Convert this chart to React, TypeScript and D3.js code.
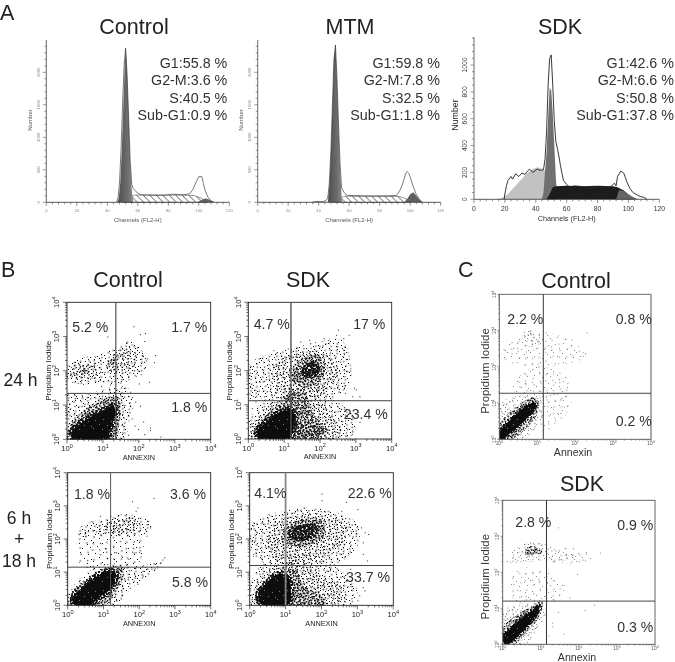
import React from "react";
import * as d3 from "d3";

const FONT = "'Liberation Sans', Arial, sans-serif";
type P = [number, number];

// ---------- Panel A: histograms, [channel, count] ----------
const ctlOutline: P[] = [[46,0],[47,60],[48,300],[49,800],[50,1500],[51,2100],[52,2370],[53,1950],[54,1300],[55,640],[56,280],[57,210],[59,160],[61,125],[63,115],[70,110],[78,110],[83,125],[90,115],[94,130],[96,190],[98,300],[100,395],[102,395],[103,290],[104,190],[106,80],[108,25],[110,0]];
const ctlG1: P[] = [[46.5,0],[47.5,60],[48.5,300],[49.5,800],[50.5,1500],[51.5,2150],[52.2,2370],[53,1950],[54,1300],[55,600],[56,200],[57,0]];
const ctlS: P[] = [[50,0],[54,70],[58,110],[70,110],[85,110],[97,105],[101,70],[106,0]];
const ctlG2: P[] = [[99,0],[101,25],[103,50],[105,60],[107,40],[109,10],[110,0]];

const mtmOutline: P[] = [[36,0],[37,12],[43,12],[45,30],[46,80],[47,300],[48,800],[49,1500],[50,2200],[51,2420],[52,1900],[53,1200],[54,600],[55,220],[57,140],[59,105],[70,100],[85,100],[91,105],[93,170],[95,280],[96,360],[97,440],[98,472],[99,450],[100,390],[102,240],[104,120],[106,50],[108,0]];
const mtmG1: P[] = [[46,0],[47,250],[48,750],[49,1450],[50,2200],[51,2420],[52,1850],[53,1150],[54,500],[55,100],[55.5,0]];
const mtmS: P[] = [[49,0],[53,50],[57,95],[70,90],[85,90],[93,90],[97,55],[100,0]];
const mtmG2: P[] = [[96,0],[98,50],[100,125],[102,155],[104,100],[106,40],[108,0]];

const sdkOutline: P[] = [[19.5,0],[20,40],[21,100],[22,140],[24,170],[25,150],[27,190],[29,170],[31,195],[33,185],[35,215],[36,225],[38,200],[41,225],[43,215],[45,220],[46,300],[47,500],[48,850],[49,1050],[50,1075],[51,850],[52,580],[53,430],[54,380],[55,320],[56,250],[57,190],[58,140],[60,110],[62,90],[65,100],[70,95],[75,80],[80,90],[85,85],[88,90],[91,120],[92,100],[93,170],[95,210],[97,195],[99,130],[101,80],[103,50],[106,30],[108,20],[110,15],[112,0]];
const sdkSub: P[] = [[14,0],[18,10],[22,40],[26,90],[30,140],[34,190],[38,225],[41,238],[44,230],[47,205],[50,100],[52,0]];
const sdkG1: P[] = [[44,0],[45,50],[46,210],[47,350],[48,600],[49,830],[50,810],[51,640],[52,400],[53,160],[54,0]];
const sdkS: P[] = [[47,0],[49,40],[51,90],[53,97],[60,100],[70,97],[80,100],[90,97],[93,90],[97,65],[100,35],[103,0]];
const sdkG2: P[] = [[92,0],[94,70],[97,60],[100,38],[103,18],[106,0]];

const statsControl = ["G1:55.8 %", "G2-M:3.6 %", "S:40.5 %", "Sub-G1:0.9 %"];
const statsMtm = ["G1:59.8 %", "G2-M:7.8 %", "S:32.5 %", "Sub-G1:1.8 %"];
const statsSdk = ["G1:42.6 %", "G2-M:6.6 %", "S:50.8 %", "Sub-G1:37.8 %"];

const channelMajors = [0, 20, 40, 60, 80, 100, 120];
const countMajorsSmall = [0, 500, 1000, 1500, 2000];
const countMajorsLarge = [0, 200, 400, 600, 800, 1000];

// ---------- Dot-plot density zones and stray events, in log10 units ----------
type Zone = { level: number; pts: P[] };

const b1Zones: Zone[] = [
  { level: 1, pts: [[0,0],[0,1.3],[0.5,1.3],[1,1.45],[1.4,1.55],[1.7,1.5],[1.85,1.2],[1.75,0.6],[1.55,0]] },
  { level: 3, pts: [[0.02,0],[0,0.25],[0.25,0.62],[0.6,0.95],[1,1.18],[1.42,1.25],[1.5,0.9],[1.45,0.4],[1.35,0]] },
  { level: 5, pts: [[0.16,0],[0.13,0.22],[0.32,0.42],[0.59,0.61],[0.92,0.81],[1.15,0.92],[1.29,1],[1.34,0.71],[1.2,0.32],[1.12,0]] },
  { level: 1, pts: [[0,1.75],[0,2.15],[0.5,2.4],[1,2.5],[1.4,2.7],[1.8,2.85],[2.15,2.5],[2.2,2.1],[1.8,1.75],[1.4,1.6],[0.9,1.65],[0.4,1.6]] },
  { level: 2, pts: [[0.1,1.8],[0.15,2.15],[0.7,2.25],[0.95,2.0],[0.7,1.75]] },
  { level: 2, pts: [[1.1,2.05],[1.2,2.4],[1.6,2.65],[1.95,2.45],[1.8,2.05],[1.4,1.9]] },
  { level: 3, pts: [[0.38,1.92],[0.42,2.05],[0.6,2.05],[0.62,1.94]] },
  { level: 3, pts: [[1.15,2.2],[1.25,2.35],[1.4,2.35],[1.35,2.2]] },
];
const b1Events: P[] = [[1.85,3.3],[2.03,3.07],[2.17,3.1],[2.15,2.87],[1.12,3],[1.66,2.85],[1.8,2.77],[2.45,2.46],[2.42,2.25],[2.28,1.68],[2,1.63],[2.31,0.34],[2.31,0.27],[1.98,0.3],[1.8,0.61],[2.12,0.52],[1.7,0.13],[1.6,1],[1.52,0.42],[2.03,0.98],[2.22,2.36],[2.08,2.46],[1.9,1.1],[1.88,0.4],[2.15,0.15],[1.6,0.2],[2.05,1.9],[2.6,0.08],[0.95,1.55],[1.2,1.6]];

const b2Zones: Zone[] = [
  { level: 1, pts: [[0,0],[0,0.5],[0.5,1.2],[1,1.6],[1.9,1.6],[2.6,1],[3,0.6],[2.8,0]] },
  { level: 2, pts: [[0.1,0],[0.05,0.3],[0.4,0.85],[0.85,1.2],[1.3,1.5],[1.8,1.4],[2.2,0.9],[2.5,0.5],[2.6,0.15],[2.4,0]] },
  { level: 3, pts: [[0.2,0],[0.15,0.25],[0.45,0.65],[0.85,1],[1.2,1.35],[1.6,1.3],[1.75,0.85],[2,0.5],[2.2,0.3],[2.1,0]] },
  { level: 5, pts: [[0.3,0],[0.25,0.2],[0.45,0.45],[0.8,0.72],[1.15,0.88],[1.3,0.65],[1.25,0.3],[1.15,0]] },
  { level: 3, pts: [[1.3,0.1],[1.3,0.45],[1.8,0.42],[2.1,0.28],[1.9,0.08]] },
  { level: 1, pts: [[0,1.3],[0.05,2.2],[0.7,2.5],[1.4,2.7],[2,2.85],[2.6,2.9],[2.85,2.3],[2.8,1.5],[2.2,1.2],[1,1.2]] },
  { level: 2, pts: [[0.7,1.7],[0.75,2.2],[1.2,2.45],[1.7,2.6],[2.3,2.4],[2.5,1.9],[2.3,1.5],[1.7,1.3],[1.1,1.3]] },
  { level: 3, pts: [[1.25,1.65],[1.25,2.1],[1.6,2.4],[1.95,2.45],[2.15,2.15],[2.05,1.75],[1.6,1.5]] },
  { level: 4, pts: [[1.5,1.85],[1.55,2.15],[1.85,2.25],[2,2.05],[1.85,1.8]] },
];
const b2Events: P[] = [[2.5,3.2],[2.8,3.05],[2.45,3.05],[2.65,2.95],[3,1.45],[2.9,1.25],[2.95,1.5],[2.7,1.35],[1.1,2.65],[0.7,2.6],[3.05,0.8],[3.1,0.5],[2.85,0.75],[3.1,1.25],[0.1,0.9],[0.2,1.1],[0.05,1.2],[2.9,0.25],[2.7,0.1],[1.7,2.9],[2.1,2.95],[1.45,2.85]];

const b3Zones: Zone[] = [
  { level: 1, pts: [[0,0],[0,0.3],[0.4,0.85],[0.9,1.2],[1.5,1.25],[2.1,1.2],[2.6,1.3],[2.5,1.1],[2,0.7],[1.6,0.3],[1.4,0]] },
  { level: 3, pts: [[0.1,0],[0.1,0.35],[0.45,0.7],[0.8,1],[1.2,1.15],[1.5,1.15],[1.55,0.8],[1.3,0.35],[1.05,0]] },
  { level: 5, pts: [[0.18,0.02],[0.18,0.3],[0.5,0.6],[0.85,0.9],[1.2,1.05],[1.35,0.95],[1.2,0.5],[0.9,0.25],[0.6,0]] },
  { level: 0, pts: [[0.4,1.2],[0.3,2.1],[1,2.5],[2,2.3],[2,1.3]] },
  { level: 1, pts: [[0.3,2.1],[0.4,2.4],[1,2.6],[1.7,2.75],[2.3,2.55],[2.3,2.2],[1.8,2.05],[1.1,2.1]] },
  { level: 2, pts: [[1,2.25],[1.05,2.45],[1.7,2.65],[2,2.5],[1.8,2.2]] },
];
const b3Events: P[] = [[1.8,3.14],[2.4,3.24],[1.95,2.95],[1.9,2.85],[0.9,2.7],[2.65,1.38],[2.6,1.3],[2.7,1.45],[2.45,1.25],[1.95,0.65],[2.1,0.9],[1.7,1.4],[1.5,1.5],[1.35,1.6],[1.9,1.6],[2,1.6],[1.8,1.62],[2.2,2.1],[2.3,2.35],[1.2,1.05],[1.35,0.15],[1.25,0.05],[1.5,0.3],[0.05,0.15],[0.02,0.05]];

const b4Zones: Zone[] = [
  { level: 1, pts: [[0,0],[0,0.5],[0.3,1.2],[1,1.5],[1.8,1.5],[2.6,1],[3,0.5],[2.8,0]] },
  { level: 2, pts: [[0.15,0],[0.1,0.45],[0.45,1],[0.9,1.3],[1.5,1.25],[2,0.9],[2.6,0.6],[2.6,0.2],[2.2,0]] },
  { level: 3, pts: [[0.25,0],[0.2,0.4],[0.5,0.8],[0.9,1.1],[1.3,1.05],[1.5,0.6],[2,0.3],[2.1,0]] },
  { level: 5, pts: [[0.3,0.05],[0.25,0.35],[0.5,0.7],[0.85,0.95],[1.05,0.85],[1.15,0.4],[1.05,0]] },
  { level: 1, pts: [[0,1.6],[0.1,2.5],[1,2.85],[2,2.9],[3,2.45],[3,1.8],[2.3,1.2],[1,1.1]] },
  { level: 2, pts: [[0.6,1.5],[0.5,2.3],[1.2,2.7],[2.1,2.75],[2.7,2.4],[2.6,1.9],[2,1.4],[1.2,1.2]] },
  { level: 3, pts: [[0.9,1.9],[1,2.35],[1.5,2.6],[2,2.55],[2.1,2.1],[1.6,1.8]] },
  { level: 4, pts: [[1.1,2.05],[1.15,2.3],[1.6,2.45],[1.85,2.4],[1.85,2.1],[1.4,1.95]] },
];
const b4Events: P[] = [[2,3.37],[2,3.17],[2.68,3.12],[3.0,2.9],[2.55,2.85],[1.8,2.88],[1.5,2.95],[0.6,2.7],[0.35,2.5],[0.2,2.2],[3.1,2.35],[3.3,2.15],[3.2,2.2],[3.15,1.9],[3.15,0.55],[3.05,0.3],[3.2,0.45],[3.0,0.15],[3.15,1.55],[1,1.1],[0.1,1.55],[1.5,0.05],[2.8,1.1],[3.27,1.35]];

const c1Zones: Zone[] = [
  { level: 0, pts: [[0.1,2.2],[0.1,2.5],[0.6,2.95],[1.1,3],[2,2.65],[2.3,2.3],[1.9,2.1],[0.9,2]] },
  { level: 0, pts: [[0.4,1.3],[0.4,1.6],[1,2],[1.8,1.7],[1.8,1.2],[1.2,1.15]] },
  { level: 1, pts: [[0.6,2.6],[0.65,2.9],[1.05,2.95],[1.05,2.6]] },
  { level: 0, pts: [[1,0.3],[1,1.1],[1.9,1.2],[1.7,0.6]] },
  { level: 1, pts: [[0,0],[0,0.95],[0.5,1.2],[1,1.15],[1.1,0.6],[0.8,0.1],[0.7,0]] },
  { level: 3, pts: [[0,0],[0,0.4],[0.4,0.85],[0.9,1.15],[1.05,1],[0.95,0.6],[0.6,0.2],[0.35,0]] },
  { level: 5, pts: [[0.02,0],[0.02,0.21],[0.33,0.58],[0.68,0.9],[0.94,1.01],[0.96,0.9],[0.68,0.53],[0.33,0.21],[0.1,0]] },
];
const c1Events: P[] = [[2.3,2.95],[1.9,2.75],[2.2,2.3],[1.3,1.05],[1.6,1.1],[1.7,0.9],[1.55,0.7],[1.1,0.65],[1.3,0.3],[1.45,0.6],[0.8,3],[2.2,2.4]];

const c2Zones: Zone[] = [
  { level: 0, pts: [[0.3,1.2],[0.3,2],[1,2.1],[1.6,1.5],[1.2,1.1]] },
  { level: 0, pts: [[1.5,2.3],[1.5,2.65],[2.3,2.55],[2.3,2.35]] },
  { level: 1, pts: [[0.1,2.3],[0.4,2.7],[0.9,2.85],[1.5,2.6],[2,2.45],[1.5,2.3],[0.8,2.3]] },
  { level: 3, pts: [[0.6,2.5],[0.65,2.7],[0.95,2.68],[1.05,2.55],[0.8,2.48]] },
  { level: 1, pts: [[0,0],[0,0.95],[0.5,1.1],[1,1.15],[1.1,0.8],[0.8,0.2],[0.6,0]] },
  { level: 3, pts: [[0,0],[0,0.45],[0.35,0.8],[0.75,1.05],[1.05,1.2],[0.95,0.75],[0.6,0.3],[0.3,0]] },
  { level: 5, pts: [[0.03,0.03],[0.03,0.25],[0.3,0.55],[0.65,0.85],[0.9,1.05],[0.98,1.1],[0.9,0.85],[0.6,0.45],[0.3,0.15],[0.15,0]] },
];
const c2Events: P[] = [[2.55,2.55],[2.1,2.35],[1.95,1.95],[1.6,1.65],[1.55,1.65],[1.1,0.85],[1.3,0.6],[1.45,0.9],[1.6,0.3],[1.2,0.25],[2.15,0.95],[2.4,1.1],[1.75,1.3],[1.35,2.3],[1.45,3.25],[1.3,0.5]];

// Irregular stipple tile, used to render event densities too high to list one by one
const stippleTile: P[] = [[3,2],[11,1],[19,3],[7,6],[15,7],[22,8],[1,10],[10,11],[18,12],[5,14],[13,16],[21,15],[2,17],[8,18],[16,0],[6,1],[14,4],[20,6],[0,5],[9,8],[17,9],[4,11],[12,13],[22,12],[7,16],[19,17],[1,14],[15,14],[11,5],[3,8],[9,2],[17,5],[21,1],[5,4],[13,9],[2,6],[19,10],[7,12],[15,11],[0,15],[10,15],[21,18],[4,18],[14,18],[18,15],[1,1],[12,0],[8,4],[16,3],[22,4],[4,7],[11,8],[20,8],[6,9],[14,7],[0,12],[9,13],[16,13],[3,13],[20,13],[6,17],[12,17],[17,17],[5,0],[13,2],[18,1],[10,4],[2,4],[19,5],[12,6],[6,7],[16,10],[8,10],[1,8],[21,10],[13,11],[3,10],[18,7]];
const stippleLevels = [
  { count: 12, size: 1 },
  { count: 26, size: 1 },
  { count: 42, size: 1 },
  { count: 66, size: 1.3 },
  { count: 78, size: 1.9 },
];

// ---------- Shared drawing bits ----------
const line = (x: any, y: any) => d3.line<P>().x((d) => x(d[0])).y((d) => y(d[1]));
const area = (x: any, y: any) => d3.area<P>().x((d) => x(d[0])).y1((d) => y(d[1])).y0(y(0));

function Txt({ x, y, size, anchor = "middle", fill = "#222", children, rotate }: any) {
  return (
    <text x={x} y={y} fontSize={size} textAnchor={anchor} fill={fill} fontFamily={FONT}
      transform={rotate ? `rotate(${rotate} ${x} ${y})` : undefined}>{children}</text>
  );
}

function Histogram(p: any) {
  const x = d3.scaleLinear().domain([0, 120]).range([p.x0, p.x1]);
  const y = d3.scaleLinear().domain([0, p.refValue]).range([p.base, p.refY]);
  const ln = line(x, y), ar = area(x, y);
  const top = p.axisTop;
  const yMax = y.invert(top);
  const big = p.big;
  return (
    <g>
      {big ? (
        <>
          <path d={ar(p.sub)!} fill="#c2c2c2" />
          <path d={ar(p.g1)!} fill="#707070" />
          <path d={ar(p.s)!} fill="#1c1c1c" />
          <path d={ar(p.g2)!} fill="#666" />
        </>
      ) : (
        <>
          <path d={ar(p.s)!} fill="url(#hatch)" stroke="#333" strokeWidth={0.5} />
          <path d={ar(p.g1)!} fill="url(#peak)" />
          <path d={ar(p.g2)!} fill="#606060" />
        </>
      )}
      <path d={ln(p.outline)!} fill="none" stroke="#222" strokeWidth={big ? 0.9 : 0.6} />
      <line x1={p.x0} x2={p.x1} y1={p.base} y2={p.base} stroke="#333" strokeWidth={0.8} />
      <line x1={p.x0} x2={p.x0} y1={top} y2={p.base} stroke="#444" strokeWidth={0.8} />
      {d3.range(0, 121, 4).map((c) => (
        <line key={c} x1={x(c)} x2={x(c)} y1={p.base} y2={p.base + (c % 20 === 0 ? 3.5 : 2)} stroke="#444" strokeWidth={0.6} />
      ))}
      {d3.range(0, yMax, p.minorStep).map((c) => (
        <line key={c} x1={p.x0} x2={p.x0 - (p.majors.includes(c) ? 3.5 : 2)} y1={y(c)} y2={y(c)} stroke="#555" strokeWidth={0.6} />
      ))}
      {channelMajors.map((c) => (
        <Txt key={c} x={x(c)} y={p.base + (big ? 11.5 : 10)} size={big ? 6.8 : 4.2} fill={big ? "#333" : "#888"}>{c}</Txt>
      ))}
      {p.majors.map((c: number) => (
        <Txt key={c} x={p.x0 - (big ? 7 : 6.5)} y={y(c)} size={big ? 6.8 : 4.2} fill={big ? "#333" : "#888"} rotate={-90}>{c}</Txt>
      ))}
      <Txt x={(p.x0 + p.x1) / 2} y={p.base + (big ? 22 : 20)} size={big ? 7.3 : 6} fill={big ? "#333" : "#555"}>Channels (FL2-H)</Txt>
      <Txt x={p.x0 - (big ? 15.7 : 14.3)} y={120 - (big ? 5 : 0)} size={big ? 8.8 : 6.1} fill={big ? "#222" : "#555"} rotate={-90}>Number</Txt>
      {p.stats.map((s: string, i: number) => (
        <Txt key={s} x={p.statsRight} y={67.7 + i * 17.45} size={14.3} anchor="end" fill="#333">{s}</Txt>
      ))}
    </g>
  );
}

function Exp({ x, y, size, e, rotate, fill }: any) {
  return (
    <text x={x} y={y} fontSize={size} textAnchor="middle" fill={fill} fontFamily={FONT}
      transform={rotate ? `rotate(${rotate} ${x} ${y})` : undefined}>
      10<tspan dy={-size * 0.42} fontSize={size * 0.72}>{e}</tspan>
    </text>
  );
}

function DotPlot(p: any) {
  const x = d3.scaleLog().domain([1, 1e4]).range([p.x0, p.x1]);
  const y = d3.scaleLog().domain([1, 1e4]).range([p.y0, p.y1]);
  const lx = (v: number) => x(10 ** v);
  const ly = (v: number) => y(10 ** v);
  const curve = d3.line<P>().x((d) => lx(d[0])).y((d) => ly(d[1])).curve(d3.curveCatmullRomClosed.alpha(0.5));
  const ink = (lv: number) => (p.faint && lv <= 1 ? "g" : "k");
  const clip = `clip-${p.id}`;
  const all = x.ticks();
  const small = p.faint;
  const tickInk = small ? "#555" : "#111";
  return (
    <g>
      <clipPath id={clip}><rect x={p.x0} y={p.y1} width={p.x1 - p.x0} height={p.y0 - p.y1} /></clipPath>
      <g clipPath={`url(#${clip})`}>
        {p.zones.map((z: Zone, i: number) => {
          const d = curve(z.pts)!;
          if (z.level === 5) {
            return (
              <g key={i}>
                <path d={d} fill="#0a0a0a" stroke="url(#st4k)" strokeWidth={small ? 3 : 6} />
                <path d={d} fill="url(#holes)" />
              </g>
            );
          }
          return (
            <g key={i}>
              <path d={d} fill={`url(#st${z.level}${ink(z.level)})`}
                stroke={z.level >= 3 ? `url(#st${z.level - 2}${ink(z.level - 2)})` : "none"} strokeWidth={6} />
              <path d={d} fill={`url(#rt${z.level}${ink(z.level)})`} />
            </g>
          );
        })}
        {p.events.map((d: P, i: number) => (
          <rect key={i} x={lx(d[0])} y={ly(d[1])} width={1} height={1} fill={p.faint ? "#888" : "#222"} />
        ))}
      </g>
      <rect x={p.x0} y={p.y1} width={p.x1 - p.x0} height={p.y0 - p.y1} fill="none" stroke={small ? "#555" : "#222"} strokeWidth={0.9} />
      {p.rightGray && <line x1={p.x1} x2={p.x1} y1={p.y1} y2={p.y0} stroke="#aaa" strokeWidth={2} />}
      <line x1={lx(p.vLine)} x2={lx(p.vLine)} y1={p.y1} y2={p.y0} stroke={p.vColor ?? "#333"} strokeWidth={p.vWidth ?? 1} />
      <line x1={p.x0} x2={p.x1} y1={ly(p.hLine)} y2={ly(p.hLine)} stroke="#444" strokeWidth={1} />
      {all.map((t) => {
        const major = Math.abs(Math.log10(t) % 1) < 1e-9;
        const len = small ? (major ? 2.2 : 1.3) : major ? 4 : 2;
        return (
          <g key={t} stroke={tickInk} strokeWidth={0.6}>
            <line x1={x(t)} x2={x(t)} y1={p.y0} y2={p.y0 + len} />
            <line x1={p.x0} x2={p.x0 - len} y1={y(t)} y2={y(t)} />
          </g>
        );
      })}
      {[0, 1, 2, 3, 4].map((e) => (
        <React.Fragment key={e}>
          <Exp x={lx(e)} y={p.y0 + (small ? 6 : 11.6)} size={small ? 4.8 : 7.6} e={e} fill={small ? "#555" : "#222"} />
          <Exp x={p.x0 - (small ? 3.5 : 7.5)} y={ly(e)} size={small ? 4.8 : 7.6} e={e} rotate={-90} fill={small ? "#555" : "#222"} />
        </React.Fragment>
      ))}
      {p.labels.map((l: any) => (
        <Txt key={l.t} x={l.x} y={l.y} size={14.1} anchor={l.a} fill="#333">{l.t}</Txt>
      ))}
      {small ? (
        <>
          <Txt x={p.xLabelX} y={p.xLabelY} size={10.6} fill="#333">Annexin</Txt>
          <Txt x={489} y={p.yLabelY} size={11.4} fill="#333" rotate={-90}>Propidium Iodide</Txt>
        </>
      ) : (
        <>
          <Txt x={(p.x0 + p.x1) / 2} y={p.y0 + 20.3} size={7.3} fill="#222">ANNEXIN</Txt>
          <Txt x={p.x0 - 16} y={(p.y0 + p.y1) / 2} size={8} fill="#222" rotate={-90}>Propidium Iodide</Txt>
        </>
      )}
    </g>
  );
}

const titles = [
  { t: "Control", x: 134, y: 34 }, { t: "MTM", x: 350, y: 34 }, { t: "SDK", x: 560, y: 34 },
  { t: "Control", x: 128, y: 287 }, { t: "SDK", x: 308, y: 287 },
  { t: "Control", x: 576, y: 287.7 }, { t: "SDK", x: 582, y: 490.7 },
];
const sideLabels = [
  { t: "24 h", x: 20.5, y: 385.7 }, { t: "6 h", x: 19, y: 524 }, { t: "+", x: 19, y: 545 }, { t: "18 h", x: 19, y: 566.7 },
];
const panelLetters = [
  { t: "A", x: 0, y: 19.5 }, { t: "B", x: 1, y: 277 }, { t: "C", x: 458, y: 277 },
];

export default function App() {
  return (
    <svg width={675} height={662} viewBox="0 0 675 662"
      style={{ position: "absolute", left: 0, top: 0, background: "#fff" }}>
      <defs>
        <pattern id="hatch" patternUnits="userSpaceOnUse" width={6.5} height={6.5}>
          <path d="M0 0L6.5 6.5M-1 5.5L1 7.5M5.5 -1L7.5 1" stroke="#111" strokeWidth={0.7} />
        </pattern>
        <linearGradient id="peak" x1="0" x2="1" y1="0" y2="0">
          <stop offset="0" stopColor="#4e4e4e" />
          <stop offset="0.6" stopColor="#6a6a6a" />
          <stop offset="1" stopColor="#8a8a8a" />
        </linearGradient>
        <pattern id="holes" patternUnits="userSpaceOnUse" width={23} height={19}>
          {stippleTile.slice(0, 8).map((d, j) => (
            <rect key={j} x={d[0]} y={d[1]} width={1} height={1} fill="#777" />
          ))}
        </pattern>
        {stippleLevels.map((l, i) => (
          <React.Fragment key={i}>
            <pattern id={`st${i}k`} patternUnits="userSpaceOnUse" width={23} height={19}>
              {stippleTile.slice(0, l.count).map((d, j) => (
                <rect key={j} x={d[0]} y={d[1]} width={l.size} height={l.size} fill="#111" />
              ))}
            </pattern>
            <pattern id={`rt${i}k`} patternUnits="userSpaceOnUse" width={23} height={19} patternTransform="rotate(37) scale(1.13)">
              {stippleTile.slice(0, l.count).map((d, j) => (
                <rect key={j} x={d[0]} y={d[1]} width={l.size} height={l.size} fill="#111" />
              ))}
            </pattern>
          </React.Fragment>
        ))}
        {stippleLevels.slice(0, 2).map((l, i) => (
          <React.Fragment key={i}>
            <pattern id={`st${i}g`} patternUnits="userSpaceOnUse" width={23} height={19}>
              {stippleTile.slice(0, l.count).map((d, j) => (
                <rect key={j} x={d[0]} y={d[1]} width={l.size} height={l.size} fill="#8a8a8a" />
              ))}
            </pattern>
            <pattern id={`rt${i}g`} patternUnits="userSpaceOnUse" width={23} height={19} patternTransform="rotate(37) scale(1.13)">
              {stippleTile.slice(0, l.count).map((d, j) => (
                <rect key={j} x={d[0]} y={d[1]} width={l.size} height={l.size} fill="#8a8a8a" />
              ))}
            </pattern>
          </React.Fragment>
        ))}
        <filter id="soft" x="0" y="0" width="100%" height="100%">
          <feGaussianBlur stdDeviation={0.35} />
        </filter>
      </defs>
      <g filter="url(#soft)">
        <Histogram x0={46.3} x1={229.3} base={202.3} refValue={2000} refY={72.3} axisTop={40} outline={ctlOutline} g1={ctlG1} s={ctlS} g2={ctlG2}
          minorStep={100} majors={countMajorsSmall} stats={statsControl} statsRight={227.3} />
        <Histogram x0={257.7} x1={440.7} base={202.3} refValue={2000} refY={72.3} axisTop={40} outline={mtmOutline} g1={mtmG1} s={mtmS} g2={mtmG2}
          minorStep={100} majors={countMajorsSmall} stats={statsMtm} statsRight={440} />
        <Histogram big x0={474} x1={659.3} base={199.3} refValue={1000} refY={65} axisTop={37} outline={sdkOutline} sub={sdkSub} g1={sdkG1} s={sdkS} g2={sdkG2}
          minorStep={50} majors={countMajorsLarge} stats={statsSdk} statsRight={674} />

        <DotPlot id="b1" x0={67} x1={210.7} y0={439.3} y1={302.3} vLine={1.36} hLine={1.34} zones={b1Zones} events={b1Events}
          labels={[{ t: "5.2 %", x: 72.3, y: 331.7, a: "start" }, { t: "1.7 %", x: 207.3, y: 331.7, a: "end" }, { t: "1.8 %", x: 207.3, y: 411.7, a: "end" }]} />
        <DotPlot id="b2" x0={248.3} x1={391.7} y0={439} y1={302.3} vLine={1.19} hLine={1.12} vColor="#555" vWidth={1.4} zones={b2Zones} events={b2Events}
          labels={[{ t: "4.7 %", x: 253.7, y: 329, a: "start" }, { t: "17 %", x: 385.3, y: 329, a: "end" }, { t: "23.4 %", x: 387.7, y: 419, a: "end" }]} />
        <DotPlot id="b3" x0={67.7} x1={210.7} y0={605.3} y1={472.7} vLine={1.2} hLine={1.15} vColor="#555" zones={b3Zones} events={b3Events}
          labels={[{ t: "1.8 %", x: 74, y: 499.3, a: "start" }, { t: "3.6 %", x: 206, y: 499.3, a: "end" }, { t: "5.8 %", x: 208, y: 586.7, a: "end" }]} />
        <DotPlot id="b4" x0={249.7} x1={393.3} y0={605.3} y1={472.7} vLine={1} hLine={1.2} vColor="#888" vWidth={1.8} zones={b4Zones} events={b4Events}
          labels={[{ t: "4.1%", x: 254.3, y: 498, a: "start" }, { t: "22.6 %", x: 391.7, y: 498, a: "end" }, { t: "33.7 %", x: 390, y: 582.3, a: "end" }]} />
        <DotPlot id="c1" faint rightGray x0={499.3} x1={651} y0={439.3} y1={294.3} vLine={1.16} hLine={1.27} zones={c1Zones} events={c1Events}
          xLabelX={573} xLabelY={455.5} yLabelY={371}
          labels={[{ t: "2.2 %", x: 507.3, y: 324, a: "start" }, { t: "0.8 %", x: 651.7, y: 324, a: "end" }, { t: "0.2 %", x: 651.7, y: 426, a: "end" }]} />
        <DotPlot id="c2" faint x0={502.7} x1={655} y0={644.3} y1={500.3} vLine={1.15} hLine={1.2} zones={c2Zones} events={c2Events}
          xLabelX={577} xLabelY={660.5} yLabelY={576.7}
          labels={[{ t: "2.8 %", x: 515.3, y: 527.3, a: "start" }, { t: "0.9 %", x: 653.3, y: 530, a: "end" }, { t: "0.3 %", x: 653.3, y: 632, a: "end" }]} />

        {titles.map((d) => <Txt key={d.t + d.x} x={d.x} y={d.y} size={21.5} fill="#222">{d.t}</Txt>)}
        {sideLabels.map((d) => <Txt key={d.t} x={d.x} y={d.y} size={17.5} fill="#222">{d.t}</Txt>)}
        {panelLetters.map((d) => <Txt key={d.t} x={d.x} y={d.y} size={21.5} anchor="start" fill="#222">{d.t}</Txt>)}
      </g>
    </svg>
  );
}
